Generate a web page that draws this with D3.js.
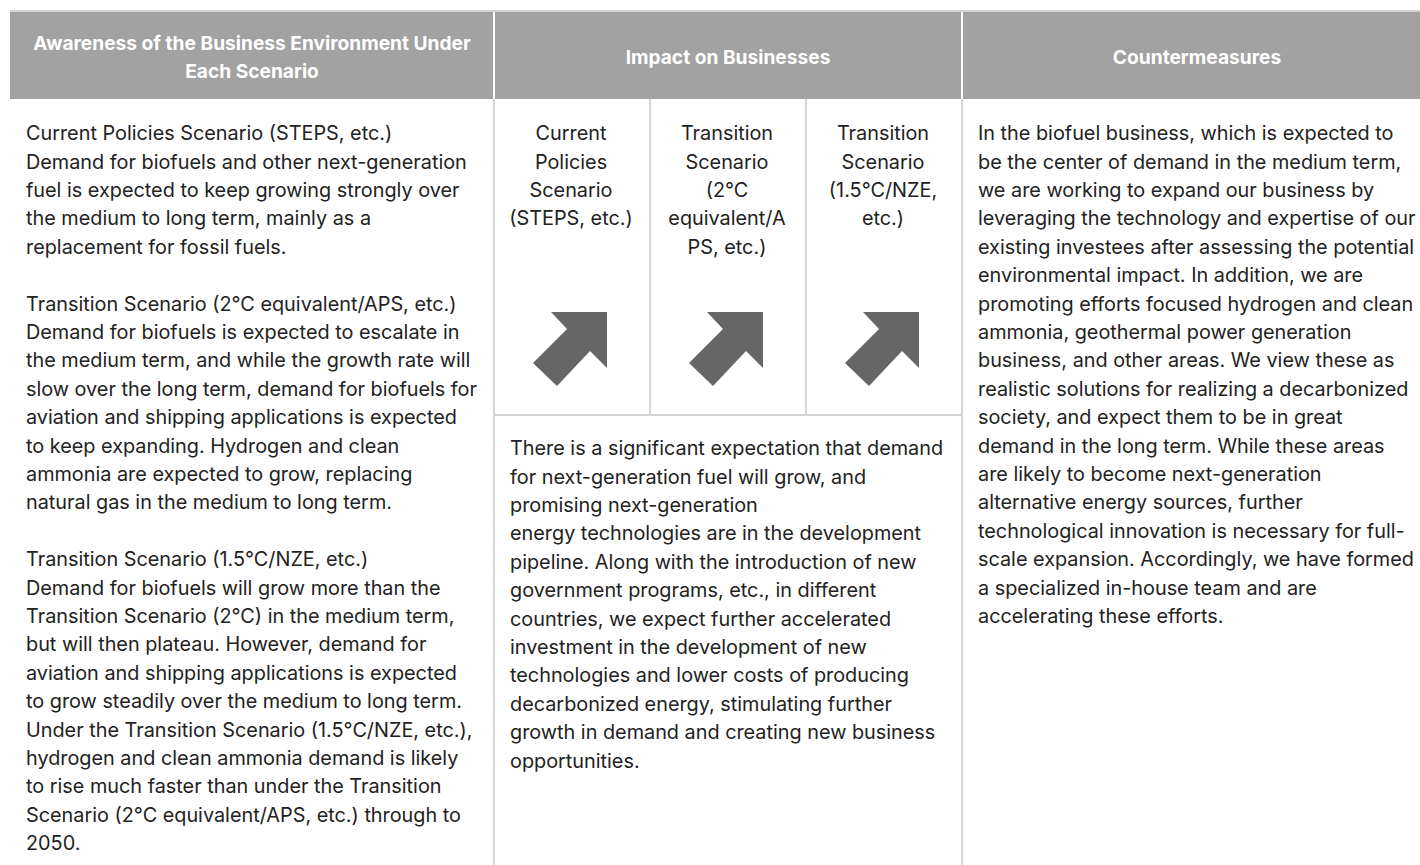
<!DOCTYPE html>
<html>
<head>
<meta charset="utf-8">
<script src="https://cdn.jsdelivr.net/npm/d3@7"></script>
<style>
  html, body { margin: 0; padding: 0; background: #fff; overflow: hidden; }
  svg { display: block; }
</style>
</head>
<body>
<svg id="chart" width="1420" height="865"></svg>
<script>
// ---------------- DATA ----------------
const headers = [
  ["Awareness of the Business Environment Under", "Each Scenario"],
  ["Impact on Businesses"],
  ["Countermeasures"]
];

const scenarios = [
  ["Current", "Policies", "Scenario", "(STEPS, etc.)"],
  ["Transition", "Scenario", "(2°C", "equivalent/A", "PS, etc.)"],
  ["Transition", "Scenario", "(1.5°C/NZE,", "etc.)"]
];

const trends = ["up", "up", "up"];

const awarenessLines = [
  "Current Policies Scenario (STEPS, etc.)",
  "Demand for biofuels and other next-generation",
  "fuel is expected to keep growing strongly over",
  "the medium to long term, mainly as a",
  "replacement for fossil fuels.",
  "",
  "Transition Scenario (2°C equivalent/APS, etc.)",
  "Demand for biofuels is expected to escalate in",
  "the medium term, and while the growth rate will",
  "slow over the long term, demand for biofuels for",
  "aviation and shipping applications is expected",
  "to keep expanding. Hydrogen and clean",
  "ammonia are expected to grow, replacing",
  "natural gas in the medium to long term.",
  "",
  "Transition Scenario (1.5°C/NZE, etc.)",
  "Demand for biofuels will grow more than the",
  "Transition Scenario (2°C) in the medium term,",
  "but will then plateau. However, demand for",
  "aviation and shipping applications is expected",
  "to grow steadily over the medium to long term.",
  "Under the Transition Scenario (1.5°C/NZE, etc.),",
  "hydrogen and clean ammonia demand is likely",
  "to rise much faster than under the Transition",
  "Scenario (2°C equivalent/APS, etc.) through to",
  "2050."
];

const impactLines = [
  "There is a significant expectation that demand",
  "for next-generation fuel will grow, and",
  "promising next-generation",
  "energy technologies are in the development",
  "pipeline. Along with the introduction of new",
  "government programs, etc., in different",
  "countries, we expect further accelerated",
  "investment in the development of new",
  "technologies and lower costs of producing",
  "decarbonized energy, stimulating further",
  "growth in demand and creating new business",
  "opportunities."
];

const counterLines = [
  "In the biofuel business, which is expected to",
  "be the center of demand in the medium term,",
  "we are working to expand our business by",
  "leveraging the technology and expertise of our",
  "existing investees after assessing the potential",
  "environmental impact. In addition, we are",
  "promoting efforts focused hydrogen and clean",
  "ammonia, geothermal power generation",
  "business, and other areas. We view these as",
  "realistic solutions for realizing a decarbonized",
  "society, and expect them to be in great",
  "demand in the long term. While these areas",
  "are likely to become next-generation",
  "alternative energy sources, further",
  "technological innovation is necessary for full-",
  "scale expansion. Accordingly, we have formed",
  "a specialized in-house team and are",
  "accelerating these efforts."
];

// ---------------- LAYOUT / STYLE ----------------
const W = 1420, H = 865;
const FONT = "Inter, 'Open Sans', 'DejaVu Sans', sans-serif";
const headerBg = "#a2a2a2", borderCol = "#d4d4d4", textCol = "#222", arrowCol = "#666";

const svg = d3.select("#chart");

// column boundaries
const colEdges = [10, 494, 962, 1432];
const subEdges = d3.range(4).map(i => d3.scaleLinear().domain([0, 3]).range([494, 962])(i));
const headTop = 10, headBottom = 99, midSplit = 415;
const lineH = 28.4;

// calibrate font size against reference widths
function measure(txt, size, weight) {
  const t = svg.append("text").attr("font-family", FONT).attr("font-size", size)
    .attr("font-weight", weight).text(txt);
  const w = t.node().getComputedTextLength();
  t.remove();
  return w;
}
const bodySize = 18 * 441 / measure("Demand for biofuels and other next-generation", 18, 400);
const headSize = 17 * 438 / measure("Awareness of the Business Environment Under", 17, 700);

// header background
svg.append("rect").attr("x", colEdges[0]).attr("y", headTop).attr("width", W - colEdges[0]).attr("height", 2)
  .attr("fill", borderCol);
svg.selectAll("rect.head").data(headers).join("rect").attr("class", "head")
  .attr("x", (d, i) => colEdges[i] + (i ? 1 : 0))
  .attr("y", headTop + 2)
  .attr("width", (d, i) => colEdges[i + 1] - colEdges[i] - (i ? 1 : 0) - 1)
  .attr("height", headBottom - headTop - 2)
  .attr("fill", headerBg);

// header text
const headG = svg.selectAll("g.headtxt").data(headers).join("g").attr("class", "headtxt");
headG.each(function (lines, i) {
  const cx = (colEdges[i] + colEdges[i + 1]) / 2;
  const cy = (headTop + 2 + headBottom) / 2 + 2;
  const y0 = cy - (lines.length - 1) * 28 / 2;
  d3.select(this).selectAll("text").data(lines).join("text")
    .attr("x", cx).attr("y", (d, k) => y0 + k * 28).attr("dy", "0.36em")
    .attr("text-anchor", "middle").attr("font-family", FONT).attr("font-weight", 700)
    .attr("font-size", headSize).attr("fill", "#fff").text(d => d);
});

// borders in body
const grid = svg.append("g").attr("stroke", borderCol).attr("stroke-width", 2).attr("fill", "none");
[colEdges[1], colEdges[2]].forEach(x => grid.append("line").attr("x1", x).attr("x2", x).attr("y1", headBottom).attr("y2", H));
[subEdges[1], subEdges[2]].forEach(x => grid.append("line").attr("x1", x).attr("x2", x).attr("y1", headBottom).attr("y2", midSplit));
grid.append("line").attr("x1", colEdges[1]).attr("x2", colEdges[2]).attr("y1", midSplit).attr("y2", midSplit);

// text blocks
function block(lines, x, y0, anchor) {
  const yScale = d3.scaleLinear().domain([0, 1]).range([y0, y0 + lineH]);
  const g = svg.append("g");
  g.selectAll("text").data(lines).join("text")
    .attr("x", x).attr("y", (d, i) => yScale(i)).attr("dy", "0.36em")
    .attr("text-anchor", anchor || "start")
    .attr("font-family", FONT).attr("font-size", bodySize).attr("fill", textCol)
    .text(d => d);
}
block(awarenessLines, 26, 133);
block(impactLines, 510, 448);
block(counterLines, 978, 133);
scenarios.forEach((lines, i) => block(lines, (subEdges[i] + subEdges[i + 1]) / 2 - 1, 133, "middle"));

// arrows (up-right)
const arrowShape = [[18, 0], [74, 0], [74, 56], [57, 39], [24, 74], [0, 51], [34, 17]];
const arrowPath = d3.line()(arrowShape) + "Z";
svg.selectAll("path.arrow").data(trends).join("path").attr("class", "arrow")
  .attr("d", arrowPath)
  .attr("fill", arrowCol)
  .attr("transform", (d, i) => {
    const cx = (subEdges[i] + subEdges[i + 1]) / 2;
    const rot = d === "up" ? 0 : d === "down" ? 90 : 45;
    return `translate(${cx - 39},312) rotate(${rot},37,37)`;
  });
</script>
</body>
</html>
